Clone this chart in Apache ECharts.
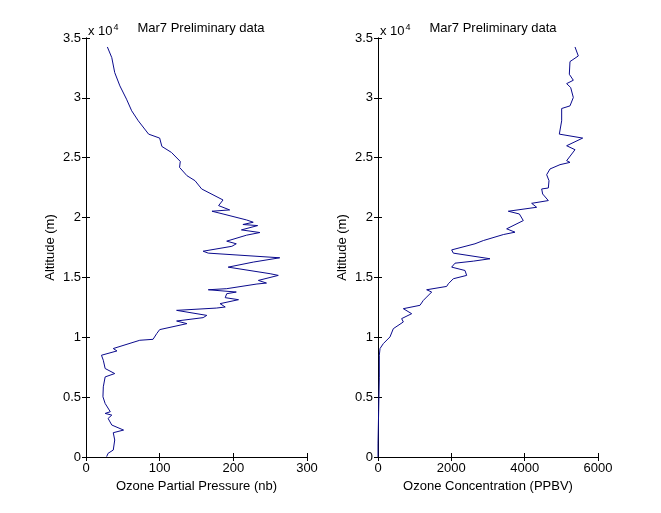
<!DOCTYPE html>
<html><head><meta charset="utf-8">
<script src="https://cdn.jsdelivr.net/npm/echarts@6/dist/echarts.min.js"></script>
<style>html,body{margin:0;padding:0;background:#fff}#c{width:661px;height:513px}</style>
</head><body><div id="c"></div>
<script>
// Left panel: ozone partial pressure (nb) vs altitude (m)
const pressureAlt = [30,310,580,1420,2030,2250,2670,3220,3500,3640,3780,4470,5030,5860,6690,6970,7110,7390,8080,8500,8860,9060,9750,9830,10310,10640,11140,11360,11640,11830,12250,12440,12530,12810,13140,13310,13640,13780,13970,14060,14450,14530,14750,15170,15310,15860,16280,16640,17030,17190,17600,17810,18030,18530,18750,18970,19330,19420,19610,19800,20300,20530,20640,21000,21470,22390,23080,23500,24190,24690,25440,25940,26640,26970,28080,28920,29890,31000,32110,33360,34250];
const pressureVal = [28,30,37,39,37,51,35,30,35,26,33,26,23,23.5,26,39,37,26,23.5,21,42,37,73,91,96,100,137,123,159,164,123,177,189,182,207,189,191,204,166,191,232,245,234,261,250,193,227,263,166,159,198,204,191,218,236,211,233,213,227,218,186,171,195,180,186,157,148,137,127,128,116,103,100,85,71,62,55,46,39,35,29];
// Right panel: ozone concentration (PPBV) vs altitude (m)
const concAlt = [0,1100,3900,6670,8500,9060,9470,10030,10720,11280,11560,11970,12390,12670,13080,13360,13780,13970,14250,14470,14890,15170,15580,15860,16190,16360,16560,17030,17300,17810,18080,18580,18780,19060,19750,20300,20530,20860,21190,21420,21970,22390,22470,23080,23580,24060,24420,24610,24750,25670,26000,26640,26970,28080,29110,29330,30030,30860,31190,31470,31970,33030,33500,34250];
const concVal = [0,0,18,36,36,55,145,327,418,691,645,918,691,1145,1236,1327,1464,1327,1873,1918,2054,2418,2373,2009,2100,2600,3054,2054,2009,2645,2873,3418,3736,3509,3963,3855,3554,4327,4191,4645,4491,4464,4645,4664,4600,4691,4964,5236,5145,5373,5145,5582,4945,5009,5009,5236,5327,5255,5145,5327,5218,5236,5463,5373];
const titleText = 'Mar7 Preliminary data';
const xNames = ['Ozone Partial Pressure (nb)', 'Ozone Concentration (PPBV)'];
const yName = 'Altitude (m)';

const FONT = 'Liberation Sans, Arial, sans-serif';
const FS = 13;
const txt = {color:'#000', fontFamily:FONT, fontSize:FS};
const pair = (xs, ys) => xs.map((v,i)=>[v, ys[i]]);

function axesFor(gi, xmax, xint, xname) {
  const line = {show:true, lineStyle:{color:'#000', width:1}};
  const tick = {show:true, inside:true, length:4, lineStyle:{color:'#000'}};
  return {
    x: [
      {type:'value', gridIndex:gi, position:'bottom', min:0, max:xmax, interval:xint,
       axisLine:line, axisTick:tick, splitLine:{show:false},
       axisLabel:Object.assign({margin:5, formatter:v=>String(v)}, txt),
       name:xname, nameLocation:'middle', nameGap:22, nameTextStyle:txt},
      {type:'value', gridIndex:gi, position:'top', min:0, max:xmax, interval:xint,
       axisLine:line, axisTick:tick, splitLine:{show:false}, axisLabel:{show:false}}
    ],
    y: [
      {type:'value', gridIndex:gi, position:'left', min:0, max:35000, interval:5000,
       axisLine:line, axisTick:tick, splitLine:{show:false},
       axisLabel:Object.assign({margin:5, formatter:v=>String(v/10000)}, txt),
       name:yName, nameLocation:'middle', nameRotate:90, nameGap:29, nameTextStyle:txt},
      {type:'value', gridIndex:gi, position:'right', min:0, max:35000, interval:5000,
       axisLine:line, axisTick:tick, splitLine:{show:false}, axisLabel:{show:false}}
    ]
  };
}
const a0 = axesFor(0, 300, 100, xNames[0]);
const a1 = axesFor(1, 6000, 2000, xNames[1]);

const supStyle = {fontWeight:'normal', color:'#000', fontFamily:FONT, fontSize:FS,
  rich:{s:{fontSize:9, verticalAlign:'top', padding:[0,0,7,1], color:'#000', fontFamily:FONT}}};

const chart = echarts.init(document.getElementById('c'), null, {renderer:'canvas'});
chart.setOption({
  backgroundColor:'#fff',
  animation:false,
  title:[
    {text:titleText, left:196, top:17, textAlign:'center', textStyle:Object.assign({fontWeight:'normal'}, txt)},
    {text:titleText, left:488, top:17, textAlign:'center', textStyle:Object.assign({fontWeight:'normal'}, txt)},
    {text:'x 10{s|4}', left:83, top:18, textStyle:supStyle},
    {text:'x 10{s|4}', left:375, top:18, textStyle:supStyle}
  ],
  grid:[
    {left:86, top:38, width:221, height:419},
    {left:378, top:38, width:220, height:419}
  ],
  xAxis:[...a0.x, ...a1.x],
  yAxis:[...a0.y, ...a1.y],
  series:[
    {type:'line', xAxisIndex:0, yAxisIndex:0, data:pair(pressureVal, pressureAlt), showSymbol:false, symbol:'none',
     lineStyle:{color:'#0a0a8c', width:1}},
    {type:'line', xAxisIndex:2, yAxisIndex:2, data:pair(concVal, concAlt), showSymbol:false, symbol:'none',
     lineStyle:{color:'#0a0a8c', width:1}}
  ]
});
</script></body></html>
